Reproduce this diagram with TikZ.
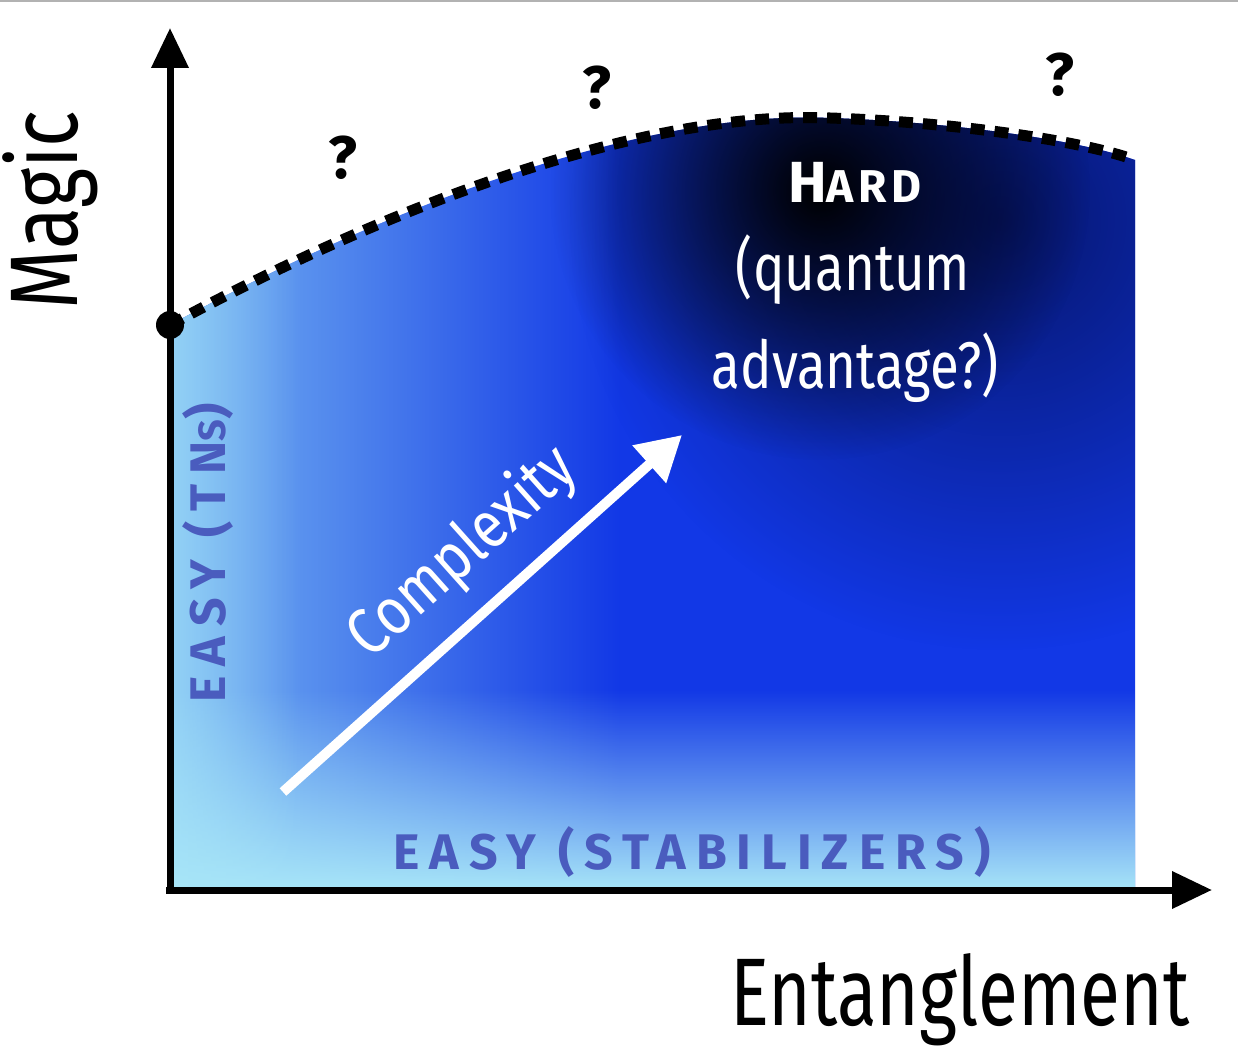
\documentclass[tikz,border=0pt]{standalone}
\usepackage{fontspec}
\setmainfont{Fira Sans}
\usetikzlibrary{fadings,arrows.meta}
\tikzfading[name=fadeR, left color=transparent!0, right color=transparent!100]
\tikzfading[name=fadeUp, top color=transparent!100, bottom color=transparent!0]
\tikzfading[name=radfade, inner color=transparent!0, outer color=transparent!100]
\definecolor{basec}{HTML}{1238E6}
\definecolor{lightc}{HTML}{A8E6F8}
\definecolor{leftc}{HTML}{78B8F2}
\definecolor{navy}{HTML}{06166E}
\definecolor{easyc}{HTML}{4A5CBE}
\tikzset{
  axis/.style={line width=3.5pt, -{Triangle[length=20pt,width=18pt]}},
  easylbl/.style={text=easyc, font=\fontsize{25}{26}\selectfont\bfseries\addfontfeature{LetterSpace=20}},
  qmark/.style={font=\fontsize{30}{30}\selectfont\bfseries},
  hardtxt/.style={text=white, font=\fontsize{33}{36}\selectfont, xscale=0.8}
}
\begin{document}
\begin{tikzpicture}[x=0.5pt,y=-0.5pt]
\useasboundingbox (0,0) rectangle (1238,1064);
\fill[white] (0,0) rectangle (1238,1064);
\draw[gray!60, line width=1pt] (0,1) -- (1238,1);
\begin{scope}
\clip (170,888) -- (170,325) .. controls (400,200) and (650,110) .. (830,118) .. controls (950,122) and (1080,140) .. (1135,160) -- (1135,888) -- cycle;
\fill[basec] (160,100) rectangle (1140,890);
\fill[navy, path fading=radfade] (1000,220) circle (430);
\fill[black, path fading=radfade] (820,190) circle (270);
\fill[leftc, path fading=fadeR] (165,90) rectangle (620,890);
\fill[lightc, path fading=fadeUp] (165,690) rectangle (1140,890);
\fill[lightc, opacity=0.6, path fading=fadeR] (165,90) rectangle (300,890);
\end{scope}
\draw[line width=5.5pt, dash pattern=on 7pt off 5pt] (170,325) .. controls (400,200) and (650,110) .. (830,118) .. controls (950,122) and (1080,140) .. (1135,160);
\coordinate (o) at (166,890);
\coordinate (ytip) at (170,28);
\coordinate (xtip) at (1212,890);
\draw[axis] (170,893) -- (ytip);
\draw[axis] (o) -- (xtip);
\fill[black] (170,325) circle (7pt);
\node[qmark] (q1) at (343,158) {?};
\node[qmark] (q2) at (597,88) {?};
\node[qmark] (q3) at (1060,75) {?};
\node[rotate=90, font=\fontsize{48}{48}\selectfont, xscale=0.8] (mag) at (50,210) {Magic};
\node[font=\fontsize{48}{48}\selectfont, xscale=0.76] (ent) at (960,1000) {Entanglement};
\node[text=white, font=\fontsize{29}{29}\selectfont\bfseries\addfontfeature{LetterSpace=10}] (hard) at (855,182) {H{\fontsize{23}{23}\selectfont ARD}};
\node[hardtxt] (qu) at (853,270) {(quantum};
\node[hardtxt] (adv) at (855,368) {advantage?)};
\coordinate (as) at (283,792);
\coordinate (ae) at (682,435);
\draw[white, line width=5pt, -{Triangle[length=22pt,width=24pt]}] (as) -- (ae);
\node[text=white, rotate=41.8, font=\fontsize{33}{33}\selectfont, xscale=0.85] (cx) at (463,553) {Complexity};
\node[easylbl, rotate=90] (tn) at (208,553) {EASY (TN{\fontsize{19}{19}\selectfont S})};
\node[easylbl] (st) at (692,852) {EASY (STABILIZERS)};
\end{tikzpicture}
\end{document}
